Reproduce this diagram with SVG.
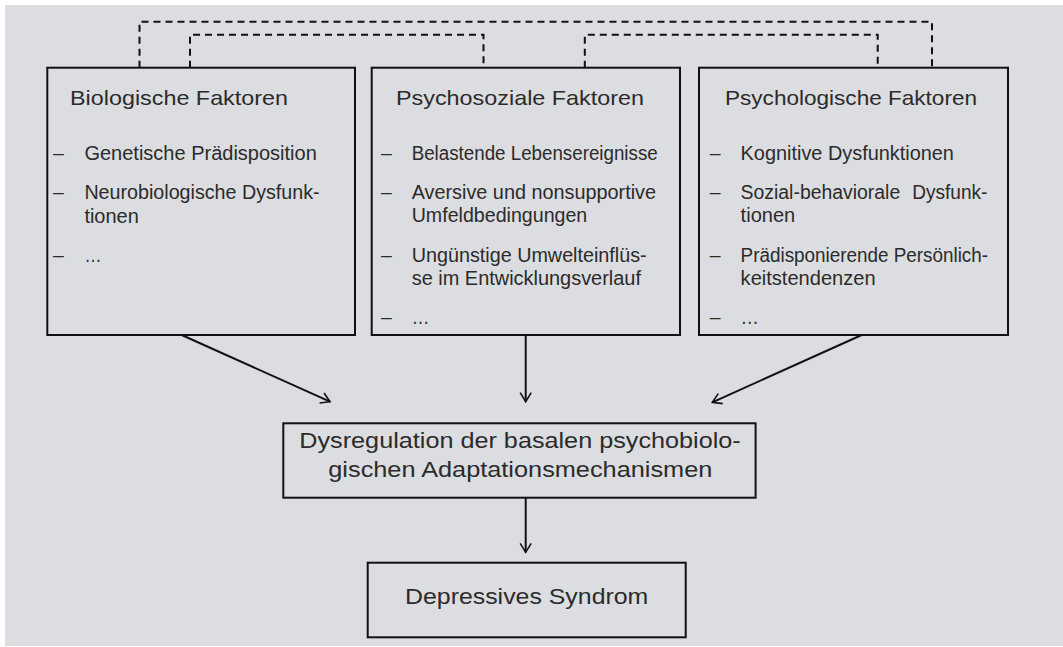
<svg xmlns="http://www.w3.org/2000/svg" width="1063" height="647" viewBox="0 0 1063 647">
<style>
.bg{fill:#dcdde0}
.box{fill:none;stroke:#111;stroke-width:2}
.t{font-family:"Liberation Sans",Arial,sans-serif;fill:#2b2b2b}
.title{font-size:21px}
.item{font-size:19.5px}
.main{font-size:22px}
.dash{fill:none;stroke:#111;stroke-width:2;stroke-dasharray:7 5}
.arr{fill:none;stroke:#111;stroke-width:2}
</style>
<defs>
<marker id="ah" markerUnits="userSpaceOnUse" markerWidth="16" markerHeight="16" viewBox="-12 -8 16 16" refX="0" refY="0" orient="auto">
<path d="M-9,-5.5 L0,0 L-9,5.5" fill="none" stroke="#111" stroke-width="1.6"/>
</marker>
</defs>
<rect class="bg" x="5" y="5" width="1058" height="641"/>

<g id="connectors">
<path class="dash" d="M139.5,67.7 V21.7 H932 V67.7"/>
<path class="dash" d="M190,67.7 V34.7 H483.5 V67.7"/>
<path class="dash" d="M584.8,67.7 V34.7 H877.7 V67.7"/>
<line class="arr" x1="181.7" y1="335" x2="330" y2="401.7" marker-end="url(#ah)"/>
<line class="arr" x1="525.7" y1="335" x2="525.7" y2="401.7" marker-end="url(#ah)"/>
<line class="arr" x1="861.7" y1="335" x2="712.3" y2="402.3" marker-end="url(#ah)"/>
<line class="arr" x1="525.7" y1="498" x2="525.7" y2="552.3" marker-end="url(#ah)"/>
</g>

<g id="bio">
<rect class="box" x="47.3" y="67.7" width="307.7" height="267.3"/>
<text class="t title" x="70" y="105" textLength="218" lengthAdjust="spacingAndGlyphs">Biologische Faktoren</text>
<text class="t item" x="53" y="160">–</text>
<text class="t item" x="84.4" y="160" textLength="232.4" lengthAdjust="spacingAndGlyphs">Genetische Prädisposition</text>
<text class="t item" x="53" y="199">–</text>
<text class="t item" x="84.4" y="199" textLength="235.2" lengthAdjust="spacingAndGlyphs">Neurobiologische Dysfunk-</text>
<text class="t item" x="84.4" y="222.5" textLength="54.4" lengthAdjust="spacingAndGlyphs">tionen</text>
<text class="t item" x="53" y="261.7">–</text>
<text class="t item" x="84.4" y="261.7" textLength="17" lengthAdjust="spacingAndGlyphs">…</text>
</g>

<g id="psychosozial">
<rect class="box" x="371.7" y="67.7" width="308.3" height="267.3"/>
<text class="t title" x="396" y="105" textLength="248" lengthAdjust="spacingAndGlyphs">Psychosoziale Faktoren</text>
<text class="t item" x="381" y="160">–</text>
<text class="t item" x="411.7" y="160" textLength="246" lengthAdjust="spacingAndGlyphs">Belastende Lebensereignisse</text>
<text class="t item" x="381" y="198.5">–</text>
<text class="t item" x="411.7" y="198.5" textLength="244.3" lengthAdjust="spacingAndGlyphs">Aversive und nonsupportive</text>
<text class="t item" x="411.7" y="221.7" textLength="175.6" lengthAdjust="spacingAndGlyphs">Umfeldbedingungen</text>
<text class="t item" x="381" y="261.7">–</text>
<text class="t item" x="411.7" y="261.7" textLength="235" lengthAdjust="spacingAndGlyphs">Ungünstige Umwelteinflüs-</text>
<text class="t item" x="411.7" y="285" textLength="229.3" lengthAdjust="spacingAndGlyphs">se im Entwicklungsverlauf</text>
<text class="t item" x="381" y="323.5">–</text>
<text class="t item" x="411.7" y="323.5" textLength="17.6" lengthAdjust="spacingAndGlyphs">…</text>
</g>

<g id="psychologisch">
<rect class="box" x="699" y="67.7" width="309" height="267.3"/>
<text class="t title" x="725" y="105" textLength="252" lengthAdjust="spacingAndGlyphs">Psychologische Faktoren</text>
<text class="t item" x="709.7" y="160">–</text>
<text class="t item" x="740.6" y="160" textLength="213.3" lengthAdjust="spacingAndGlyphs">Kognitive Dysfunktionen</text>
<text class="t item" x="709.7" y="198.5">–</text>
<text class="t item" y="198.5"><tspan x="740.6" textLength="159.6" lengthAdjust="spacingAndGlyphs">Sozial-behaviorale</tspan> <tspan x="912.3" textLength="75.1" lengthAdjust="spacingAndGlyphs">Dysfunk-</tspan></text>
<text class="t item" x="740.6" y="221.7" textLength="54.7" lengthAdjust="spacingAndGlyphs">tionen</text>
<text class="t item" x="709.7" y="261.7">–</text>
<text class="t item" x="740.6" y="261.7" textLength="247.5" lengthAdjust="spacingAndGlyphs">Prädisponierende Persönlich-</text>
<text class="t item" x="740.6" y="285" textLength="135" lengthAdjust="spacingAndGlyphs">keitstendenzen</text>
<text class="t item" x="709.7" y="323.5">–</text>
<text class="t item" x="740.6" y="323.5" textLength="18.4" lengthAdjust="spacingAndGlyphs">…</text>
</g>

<g id="dysregulation">
<rect class="box" x="283.3" y="423.3" width="472.3" height="74.4"/>
<text class="t main" x="299.3" y="448.3" textLength="441.4" lengthAdjust="spacingAndGlyphs">Dysregulation der basalen psychobiolo-</text>
<text class="t main" x="328.3" y="476.7" textLength="384" lengthAdjust="spacingAndGlyphs">gischen Adaptationsmechanismen</text>
</g>

<g id="syndrom">
<rect class="box" x="367.7" y="562.7" width="318" height="74.6"/>
<text class="t main" x="405" y="604" textLength="243.3" lengthAdjust="spacingAndGlyphs">Depressives Syndrom</text>
</g>
</svg>
